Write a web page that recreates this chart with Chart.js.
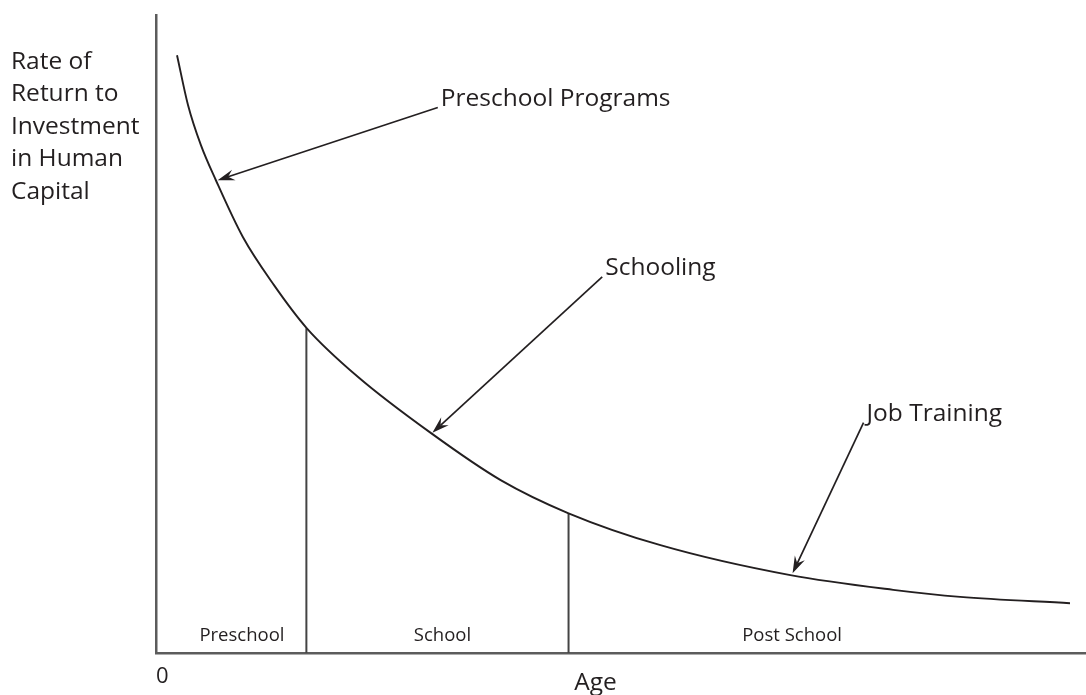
<!DOCTYPE html>
<html>
<head>
<meta charset="utf-8">
<script src="https://cdn.jsdelivr.net/npm/chart.js@4.4.1/dist/chart.umd.min.js"></script>
<style>
  html, body { margin: 0; padding: 0; background: #fff; }
  #wrap { width: 1086px; height: 695px; }
</style>
</head>
<body>
<div id="wrap"><canvas id="heckman" width="1086" height="695"></canvas></div>
<script>
// Rate of return curve (age on x, return on y, both 0..100)
const curveAge    = [2.26, 3.44, 4.83, 6.44, 9.34, 12.67, 16.22, 21.70, 29.54, 37.06, 44.36, 54.24, 68.21, 79.27, 86.47, 98.28];
const curveReturn = [93.7, 85.9, 79.6, 74.1, 65.2, 57.7, 50.9, 43.3, 34.5, 27.1, 21.9, 16.9, 12.2, 9.9, 8.8, 7.8];

// Stage boundaries on the age axis and the curve height there
const stageBounds  = [16.17, 44.36];
const stageHeights = [50.9, 21.9];

// Stage names and the age at which each is centred
const stageNames   = ['Preschool', 'School', 'Post School'];
const stageCentres = [9.24, 30.8, 68.4];

// Pointer labels: text, arrow tail and arrow tip (data units)
const pointerText  = ['Preschool Programs', 'Schooling', 'Job Training'];
const pointerTail  = [[30.3, 85.5], [47.98, 58.97], [76.08, 36.1]];
const pointerTip   = [[6.63, 74.1], [29.72, 34.53], [68.45, 12.49]];

const yTitleLines = ['Rate of', 'Return to', 'Investment', 'in Human', 'Capital'];

const INK = '#231f20';
const AXIS = '#5c5c5c';
const FONT = '"Open Sans", "Noto Sans", sans-serif';

function drawArrow(ctx, x1, y1, x2, y2) {
    const ang = Math.atan2(y2 - y1, x2 - x1);
    const c = Math.cos(ang), s = Math.sin(ang);
    const len = 17, half = 5.5, notch = 11;
    ctx.beginPath();
    ctx.moveTo(x1, y1);
    ctx.lineTo(x2 - c * notch, y2 - s * notch);
    ctx.stroke();
    ctx.beginPath();
    ctx.moveTo(x2, y2);
    ctx.lineTo(x2 - c * len - s * half, y2 - s * len + c * half);
    ctx.lineTo(x2 - c * notch, y2 - s * notch);
    ctx.lineTo(x2 - c * len + s * half, y2 - s * len - c * half);
    ctx.closePath();
    ctx.fill();
}

const labelsPlugin = {
    id: 'heckmanLabels',
    afterDatasetsDraw(chart) {
        const ctx = chart.ctx;
        const xs = chart.scales.x, ys = chart.scales.y;
        const area = chart.chartArea;
        ctx.save();
        ctx.fillStyle = INK;
        ctx.strokeStyle = INK;
        ctx.lineWidth = 1.7;

        // arrows and their captions
        ctx.font = '24.5px ' + FONT;
        ctx.textAlign = 'left';
        ctx.textBaseline = 'alphabetic';
        pointerText.forEach((txt, i) => {
            const tx = xs.getPixelForValue(pointerTail[i][0]);
            const ty = ys.getPixelForValue(pointerTail[i][1]);
            const hx = xs.getPixelForValue(pointerTip[i][0]);
            const hy = ys.getPixelForValue(pointerTip[i][1]);
            drawArrow(ctx, tx, ty, hx, hy);
            ctx.fillText(txt, tx + 3, ty - 2);
        });

        // stage names along the bottom of the plot
        ctx.font = '18.5px ' + FONT;
        ctx.textAlign = 'center';
        stageNames.forEach((name, i) => {
            ctx.fillText(name, xs.getPixelForValue(stageCentres[i]), area.bottom - 12);
        });

        // origin and axis title
        ctx.font = '22px ' + FONT;
        ctx.textAlign = 'left';
        ctx.fillText('0', area.left, area.bottom + 30);
        ctx.font = '24.5px ' + FONT;
        ctx.textAlign = 'center';
        ctx.fillText('Age', xs.getPixelForValue(47.26), area.bottom + 37);

        // y axis title, stacked lines
        ctx.textAlign = 'left';
        yTitleLines.forEach((line, i) => {
            ctx.fillText(line, 11, 68.5 + i * 32.5);
        });
        ctx.restore();
    }
};

const curveData = curveAge.map((a, i) => ({ x: a, y: curveReturn[i] }));
const boundSets = stageBounds.map((b, i) => ({
    data: [{ x: b, y: 0 }, { x: b, y: stageHeights[i] }],
    showLine: true,
    borderColor: '#444',
    borderWidth: 2,
    pointRadius: 0,
    fill: false
}));

new Chart(document.getElementById('heckman').getContext('2d'), {
    type: 'scatter',
    data: {
        datasets: [
            {
                label: 'Rate of return',
                data: curveData,
                showLine: true,
                borderColor: INK,
                borderWidth: 1.9,
                pointRadius: 0,
                cubicInterpolationMode: 'monotone',
                fill: false
            },
            ...boundSets
        ]
    },
    options: {
        responsive: false,
        animation: false,
        layout: { padding: { left: 148, top: 15, right: 0, bottom: 34 } },
        plugins: { legend: { display: false }, tooltip: { enabled: false } },
        scales: {
            x: {
                type: 'linear', min: 0, max: 100,
                grid: { display: false },
                ticks: { display: false },
                border: { display: true, color: AXIS, width: 2.5 }
            },
            y: {
                type: 'linear', min: 0, max: 100,
                grid: { display: false },
                ticks: { display: false },
                border: { display: true, color: AXIS, width: 2.5 }
            }
        }
    },
    plugins: [labelsPlugin]
});
</script>
</body>
</html>
